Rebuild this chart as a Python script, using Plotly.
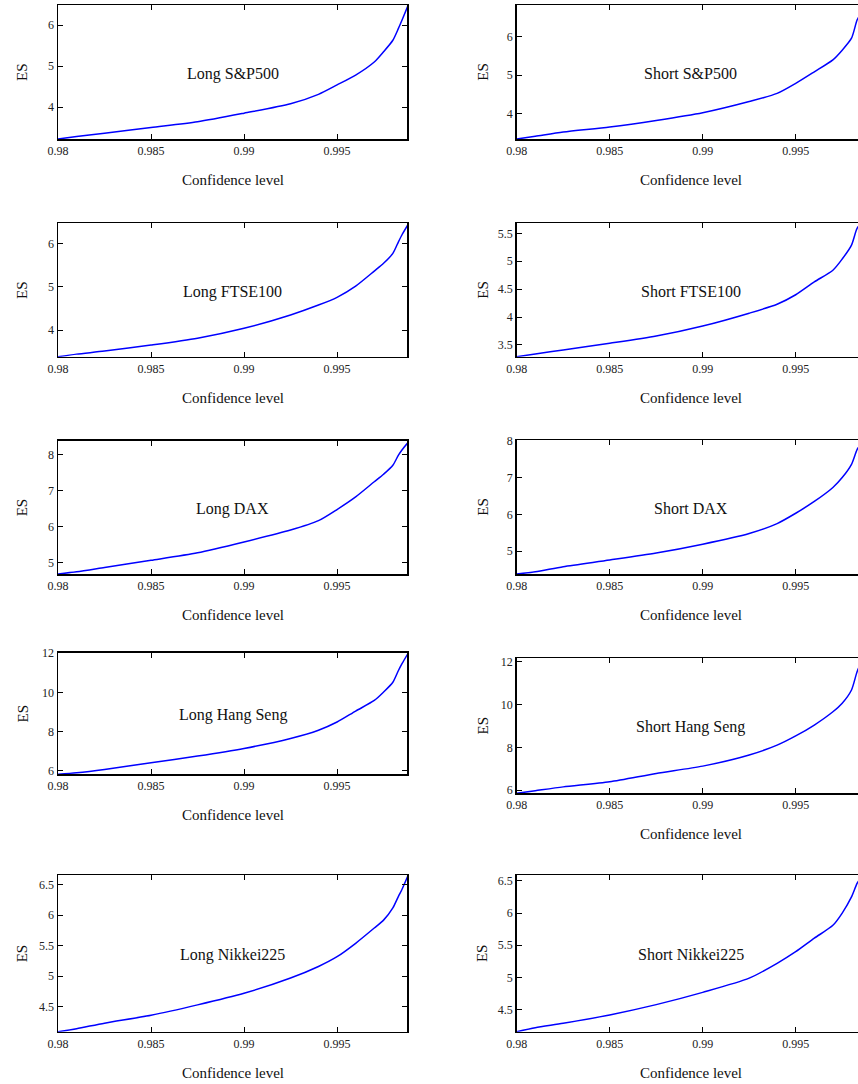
import plotly.graph_objects as go

W, H = 858, 1084

conf_level = [0.980, 0.981, 0.9825, 0.985, 0.9875, 0.990, 0.9925, 0.994, 0.995,
              0.996, 0.997, 0.9975, 0.998, 0.9983, 0.9985, 0.9988]

long_sp500 = [3.22, 3.28, 3.36, 3.50, 3.64, 3.85, 4.08, 4.31, 4.54, 4.78, 5.10, 5.35, 5.63, 5.92, 6.13, 6.46]
short_sp500 = [3.35, 3.42, 3.53, 3.66, 3.83, 4.03, 4.32, 4.53, 4.79, 5.09, 5.40, 5.65, 5.96, 6.43, 6.60, 6.80]
long_ftse100 = [3.38, 3.44, 3.51, 3.65, 3.81, 4.04, 4.35, 4.58, 4.76, 5.02, 5.37, 5.55, 5.78, 6.05, 6.22, 6.44]
short_ftse100 = [3.29, 3.34, 3.41, 3.53, 3.66, 3.84, 4.07, 4.23, 4.40, 4.63, 4.84, 5.04, 5.29, 5.59, 5.66, 5.70]
long_dax = [4.68, 4.74, 4.86, 5.06, 5.27, 5.57, 5.90, 6.16, 6.47, 6.82, 7.24, 7.45, 7.70, 7.98, 8.13, 8.32]
short_dax = [4.38, 4.44, 4.58, 4.76, 4.95, 5.19, 5.48, 5.75, 6.03, 6.35, 6.73, 7.00, 7.36, 7.76, 7.90, 8.10]
long_hangseng = [5.82, 5.90, 6.07, 6.41, 6.75, 7.14, 7.65, 8.07, 8.49, 9.05, 9.59, 10.02, 10.52, 11.12, 11.48, 11.97]
short_hangseng = [5.85, 5.97, 6.15, 6.39, 6.78, 7.12, 7.64, 8.10, 8.53, 9.04, 9.66, 10.06, 10.68, 11.53, 11.90, 12.15]
long_nikkei225 = [4.09, 4.14, 4.23, 4.36, 4.53, 4.72, 4.97, 5.16, 5.32, 5.54, 5.79, 5.92, 6.12, 6.31, 6.43, 6.64]
short_nikkei225 = [4.16, 4.22, 4.29, 4.42, 4.58, 4.77, 4.99, 5.22, 5.40, 5.61, 5.81, 6.00, 6.25, 6.46, 6.55, 6.70]

panel_titles = ["Long S&P500", "Short S&P500", "Long FTSE100", "Short FTSE100",
                "Long DAX", "Short DAX", "Long Hang Seng", "Short Hang Seng",
                "Long Nikkei225", "Short Nikkei225"]
series = [long_sp500, short_sp500, long_ftse100, short_ftse100, long_dax, short_dax,
          long_hangseng, short_hangseng, long_nikkei225, short_nikkei225]
y_ranges = [[3.22, 6.49], [3.35, 6.82], [3.38, 6.48], [3.29, 5.68], [4.68, 8.38],
            [4.38, 8.02], [5.82, 12.03], [5.85, 12.16], [4.09, 6.66], [4.16, 6.59]]
y_dticks = [1, 1, 1, 0.5, 1, 1, 2, 2, 0.5, 0.5]
x_ticks = [0.98, 0.985, 0.99, 0.995]
x_ticklabels = ["0.98", "0.985", "0.99", "0.995"]

# layout geometry (pixels)
col_px = [(58, 407), (516.7, 858)]
row_px_left = [(5, 139), (223.3, 356.7), (440.7, 574), (652.7, 774.3), (875, 1031.7)]
row_px_right = [(5, 139), (223.3, 356.7), (440, 574), (658.3, 793.3), (875, 1031.7)]
x_range_left = [0.98, 0.99876]
x_range_right = [0.98, 0.98 + (858 - 516.7) / 93.0 * 0.005]

FONT = "Liberation Serif, Times New Roman, serif"
fig = go.Figure()
annotations = []
layout = {}

for i in range(10):
    r, c = divmod(i, 2)
    k = i + 1
    xname = "x" if k == 1 else f"x{k}"
    yname = "y" if k == 1 else f"y{k}"
    x0, x1 = col_px[c]
    top, bot = (row_px_left if c == 0 else row_px_right)[r]
    fig.add_trace(go.Scatter(x=conf_level, y=series[i], mode="lines",
                             line=dict(color="#0000ff", width=1.5, shape="spline", smoothing=0.7),
                             xaxis=xname, yaxis=yname, showlegend=False,
                             cliponaxis=True, hoverinfo="skip"))
    axis_common = dict(showline=True, linecolor="black", linewidth=1.5,
                       ticks="inside", ticklen=5, tickcolor="black", tickwidth=1,
                       showgrid=False, zeroline=False, automargin=False,
                       tickfont=dict(family=FONT, size=12, color="#222"))
    layout["xaxis" if k == 1 else f"xaxis{k}"] = dict(
        axis_common, domain=[x0 / W, min(x1 / W, 1.0)],
        range=x_range_left if c == 0 else x_range_right,
        tickvals=x_ticks, ticktext=x_ticklabels, anchor=yname,
        mirror="ticks")
    layout["yaxis" if k == 1 else f"yaxis{k}"] = dict(
        axis_common, domain=[1 - bot / H, 1 - top / H],
        range=y_ranges[i], dtick=y_dticks[i], tick0=0, anchor=xname,
        mirror="ticks" if c == 0 else False)
    cx = 232.5 if c == 0 else 690.5
    cy = (top + bot) / 2 + 1.5
    annotations.append(dict(text=panel_titles[i], x=cx / W, y=1 - cy / H,
                            xref="paper", yref="paper", showarrow=False,
                            xanchor="center", yanchor="middle",
                            font=dict(family=FONT, size=16, color="#111")))
    annotations.append(dict(text="Confidence level", x=cx / W, y=1 - (bot + 41) / H,
                            xref="paper", yref="paper", showarrow=False,
                            xanchor="center", yanchor="middle",
                            font=dict(family=FONT, size=15, color="#111")))
    esx = 22 if c == 0 else 482.7
    annotations.append(dict(text="ES", x=esx / W, y=1 - ((top + bot) / 2) / H,
                            xref="paper", yref="paper", showarrow=False, textangle=-90,
                            xanchor="center", yanchor="middle",
                            font=dict(family=FONT, size=15, color="#111")))

fig.update_layout(**layout)
fig.update_layout(width=W, height=H,
                  margin=dict(l=0, r=0, t=0, b=0, pad=0, autoexpand=False),
                  paper_bgcolor="white", plot_bgcolor="white",
                  annotations=annotations, showlegend=False, hovermode=False)

fig.write_html("out.html", config={"displayModeBar": False, "staticPlot": True},
               post_script="document.body.style.margin='0';document.body.style.overflow='hidden';")
